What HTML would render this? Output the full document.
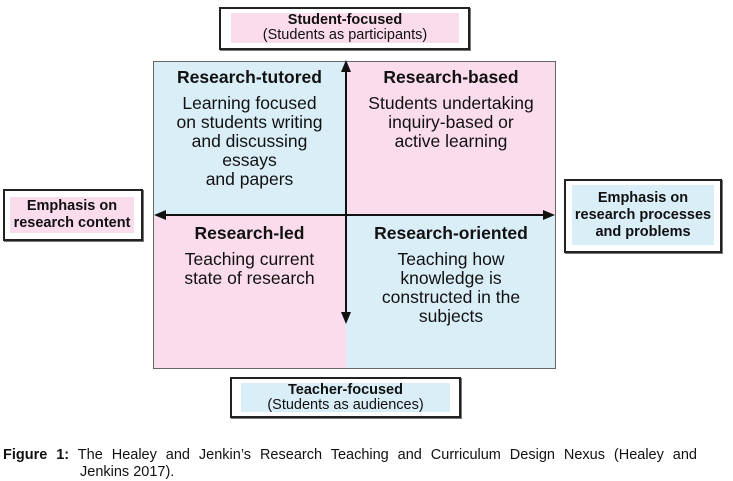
<!DOCTYPE html>
<html><head><meta charset="utf-8"><style>
body{margin:0;width:733px;height:481px;background:#fff;position:relative;font-family:"Liberation Sans",Arial,sans-serif;color:#111;overflow:hidden}
.a{position:absolute;box-sizing:border-box}
.box{border:2px solid #222;background:#fff;box-shadow:1px 1px 0 #777}
.in{display:flex;flex-direction:column;justify-content:center;align-items:center;text-align:center;white-space:nowrap}
.pink{background:#fbdcec}.blue{background:#daeef8}
.q{text-align:center;font-size:17.5px;line-height:19px;white-space:nowrap}
.q b{display:block;font-size:17.5px;margin-bottom:7px}
</style></head><body>
<div class="a box" style="left:219px;top:7px;width:251px;height:43px"></div>
<div class="a in pink" style="left:231px;top:13px;width:228px;height:30px;font-size:14.5px;line-height:15px"><b>Student-focused</b>(Students as participants)</div>

<div class="a box" style="left:230px;top:377px;width:231px;height:41px"></div>
<div class="a in blue" style="left:241px;top:383px;width:209px;height:29px;font-size:14.5px;line-height:15px"><b>Teacher-focused</b>(Students as audiences)</div>

<div class="a box" style="left:3px;top:189px;width:140px;height:52px"></div>
<div class="a in pink" style="left:10px;top:197px;width:124px;height:36px;font-size:14.5px;line-height:17px;font-weight:bold">Emphasis on<br>research content</div>

<div class="a box" style="left:564px;top:179px;width:158px;height:74px"></div>
<div class="a in blue" style="left:572px;top:185px;width:142px;height:60px;font-size:14.5px;line-height:17px;font-weight:bold">Emphasis on<br>research processes<br>and problems</div>

<div class="a blue" style="left:153px;top:61px;width:193px;height:154px"></div>
<div class="a pink" style="left:346px;top:61px;width:210px;height:154px"></div>
<div class="a pink" style="left:153px;top:215px;width:193px;height:154px"></div>
<div class="a blue" style="left:346px;top:215px;width:210px;height:154px"></div>
<div class="a" style="left:153px;top:61px;width:403px;height:308px;border:1px solid #666"></div>

<div class="a q" style="left:153px;top:68px;width:193px"><b>Research-tutored</b>Learning focused<br>on students writing<br>and discussing<br>essays<br>and papers</div>
<div class="a q" style="left:346px;top:68px;width:210px"><b>Research-based</b>Students undertaking<br>inquiry-based or<br>active learning</div>
<div class="a q" style="left:153px;top:224px;width:193px"><b>Research-led</b>Teaching current<br>state of research</div>
<div class="a q" style="left:346px;top:224px;width:210px"><b>Research-oriented</b>Teaching how<br>knowledge is<br>constructed in the<br>subjects</div>

<svg class="a" style="left:0;top:0" width="733" height="481">
<line x1="346" y1="66" x2="346" y2="318" stroke="#111" stroke-width="2"/>
<polygon points="346,60 341,72 351,72" fill="#111"/>
<polygon points="346,324 341,312 351,312" fill="#111"/>
<line x1="160" y1="215" x2="548" y2="215" stroke="#111" stroke-width="2"/>
<polygon points="154,215 166,210 166,220" fill="#111"/>
<polygon points="555,215 543,210 543,220" fill="#111"/>
</svg>

<div class="a" style="left:3px;top:447px;width:694px;font-size:14.5px;line-height:17px;text-align:justify;text-align-last:justify;white-space:nowrap"><b>Figure 1:</b> The Healey and Jenkin’s Research Teaching and Curriculum Design Nexus (Healey and</div>
<div class="a" style="left:80px;top:464px;font-size:14.5px;line-height:17px">Jenkins 2017).</div>
</body></html>
